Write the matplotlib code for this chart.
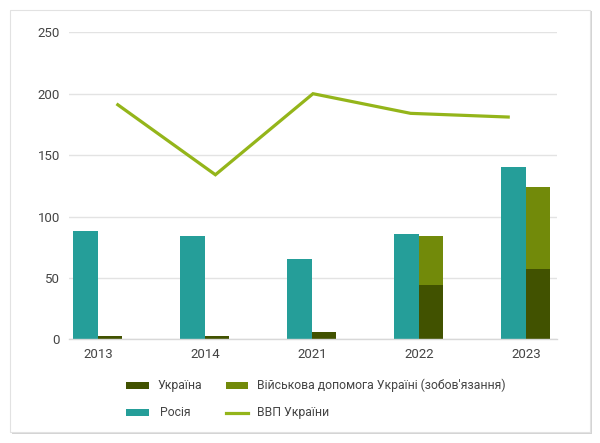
import matplotlib
matplotlib.use("Agg")
import matplotlib.pyplot as plt
from matplotlib.patches import Rectangle, Patch
from matplotlib.lines import Line2D
import numpy as np

years = ["2013", "2014", "2021", "2022", "2023"]
russia = [88, 84, 65, 86, 140]
ukraine = [3, 3, 6, 44, 57]
aid = [0, 0, 0, 40, 67]
gdp = [191, 134, 200, 184, 181]
yticks = [0, 50, 100, 150, 200, 250]

C_RUS = "#259e99"
C_UKR = "#415200"
C_AID = "#728a0a"
C_GDP = "#94b51a"
TXT = "#444444"

plt.rcParams['font.family'] = ['Roboto', 'DejaVu Sans']

W, H = 600, 443
fig = plt.figure(figsize=(W / 100, H / 100), dpi=100)
fig.patch.set_facecolor("white")

# card with shadow
fig.patches.append(Rectangle((12 / W, 1 - 434 / H), 580 / W, 423 / H, transform=fig.transFigure,
                             facecolor="#d4d4d4", edgecolor="none", zorder=-3))
fig.patches.append(Rectangle((10 / W, 1 - 432 / H), 580 / W, 422 / H, transform=fig.transFigure,
                             facecolor="white", edgecolor="#e2e2e2", linewidth=0.8, zorder=-2))

L, R, T, B = 69, 557, 32.3, 339.3
ax = fig.add_axes([L / W, 1 - B / H, (R - L) / W, (B - T) / H])
ax.set_facecolor("none")

x = np.arange(len(years))
w = 0.229
ax.bar(x - w / 2, russia, width=w, color=C_RUS, zorder=3)
ax.bar(x + w / 2, ukraine, width=w, color=C_UKR, zorder=3)
ax.bar(x + w / 2, aid, width=w, bottom=ukraine, color=C_AID, zorder=3)

ax.set_xlim(-0.271, 4.29)
ax.set_ylim(0, 250)
ax.set_yticks(yticks)
ax.set_xticks(x)
ax.set_xticklabels(years)
ax.tick_params(axis="both", length=0, labelsize=9.5, labelcolor=TXT)
ax.tick_params(axis="y", pad=6.5)
ax.tick_params(axis="x", pad=6)
ax.grid(axis="y", color="#e3e3e3", linewidth=1, zorder=0)
for s in ["top", "right", "left"]:
    ax.spines[s].set_visible(False)
ax.spines["bottom"].set_color("#d8d8d8")
ax.spines["bottom"].set_linewidth(1)
ax.spines["bottom"].set_zorder(4)

ax2 = ax.twiny()
ax2.plot(np.arange(len(years)), gdp, color=C_GDP, linewidth=2.3, zorder=5, solid_joinstyle="miter")
ax2.set_xlim(-0.5, 4.5)
ax2.set_ylim(0, 250)
ax2.axis("off")

handles = [
    Patch(facecolor=C_UKR, edgecolor="none"),
    Patch(facecolor=C_RUS, edgecolor="none"),
    Patch(facecolor=C_AID, edgecolor="none"),
    Line2D([0], [0], color=C_GDP, linewidth=2.3),
]
labels = ["Україна", " Росія", "Військова допомога Україні (зобов'язання)", "ВВП України"]
fig.legend(handles, labels, ncol=2, loc="upper left",
           bbox_to_anchor=(126 / W, 1 - 379 / H), frameon=False,
           fontsize=8.8, labelcolor=TXT, borderpad=0, borderaxespad=0,
           handlelength=1.85, handleheight=0.5, handletextpad=0.7,
           columnspacing=1.95, labelspacing=1.15)

fig.savefig("out.png", dpi=100, facecolor=fig.get_facecolor())
